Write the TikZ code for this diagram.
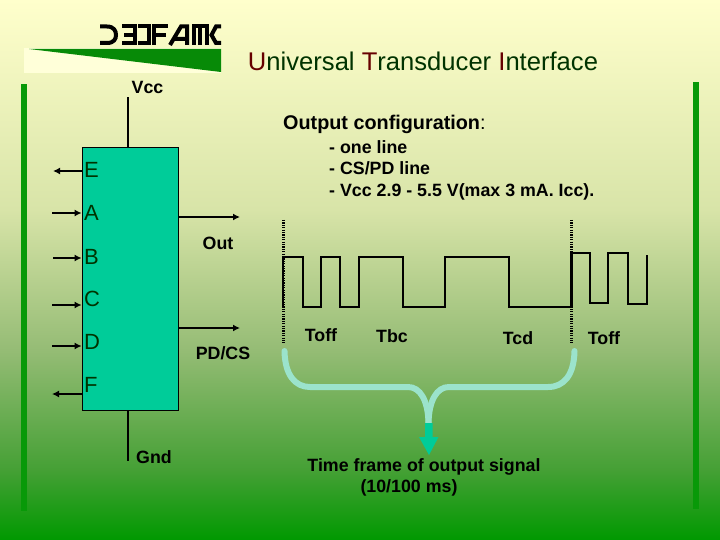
\documentclass[tikz,border=0pt]{standalone}
\usepackage{fontspec}
\setmainfont{Liberation Sans}
\usetikzlibrary{arrows.meta}
\definecolor{bgtop}{HTML}{FFFFCC}
\definecolor{bgone}{HTML}{D8E4A8}
\definecolor{bgtwo}{HTML}{95BC75}
\definecolor{bgthree}{HTML}{45A035}
\definecolor{bgend}{HTML}{009900}
\definecolor{barGreen}{HTML}{089908}
\definecolor{blockFill}{HTML}{00CC99}
\definecolor{braceFill}{HTML}{9BE3CC}
\definecolor{titleGreen}{HTML}{003300}
\definecolor{titleRed}{HTML}{660000}
\pgfdeclareverticalshading{slidebg}{100bp}{color(0bp)=(bgend); color(25bp)=(bgend); color(31.5bp)=(bgthree); color(42.6bp)=(bgtwo); color(55.6bp)=(bgone); color(75bp)=(bgtop); color(100bp)=(bgtop)}
\tikzset{
  lbl/.style={font=\fontsize{17.8}{20}\selectfont\bfseries, inner sep=0pt},
  pinlbl/.style={font=\fontsize{22}{24}\selectfont, text=titleGreen, inner sep=0pt},
  pinline/.style={line width=1.8pt, -{Latex[length=7pt,width=7pt]}},
  outline/.style={line width=2.6pt, -{Latex[length=7pt,width=7pt]}},
  railline/.style={line width=2.6pt},
  wave/.style={line width=2.6pt, line join=miter},
  frameline/.style={line width=3pt, dash pattern=on 1.2pt off 1.2pt},
  bracepath/.style={line width=6pt, braceFill, line cap=round},
  logostroke/.style={line width=4pt, line cap=butt, line join=miter}
}
\begin{document}
\begin{tikzpicture}[x=1pt, y=-1pt]
    \useasboundingbox (0,0) rectangle (720,540);
    \shade[shading=slidebg] (0,0) rectangle (720,540);

    % Side bars
    \fill[barGreen] (21,84) rectangle (27,511);
    \fill[barGreen] (693,82) rectangle (699,509);

    % Logo
    \fill[bgtop!75!white] (24,48) rectangle (221,73);
    \fill[barGreen!90!black] (29,49) -- (221,49) -- (221,72) -- cycle;
    \draw[logostroke] (100,26.5) -- (107,26.5) .. controls (114,26.5) and (116,31) .. (116,35) .. controls (116,39) and (114,43) .. (107,43) -- (100,43);
    \draw[logostroke] (122,26.5) -- (135,26.5) -- (135,43) -- (122,43) (124,35) -- (135,35);
    \draw[logostroke] (138,26.5) -- (149,26.5) -- (149,43) -- (138,43);
    \draw[logostroke] (154,45) -- (154,26.5) -- (168,26.5) (154,35) -- (166,35);
    \draw[logostroke] (170,45) -- (181,26.5) -- (187,26.5) -- (187,45) (175,39) -- (186,39);
    \draw[logostroke] (193.5,45) -- (193.5,26.5) -- (206.5,26.5) -- (206.5,45) (200,26.5) -- (200,45);
    \draw[logostroke] (221,26.5) -- (216,26.5) -- (211.5,35) -- (216,43) -- (221,43);

    % Title
    \node[font=\fontsize{25.6}{28}\selectfont, text=titleGreen, inner sep=0pt] (title) at (423,61) {\textcolor{titleRed}{U}niversal \textcolor{titleRed}{T}ransducer \textcolor{titleRed}{I}nterface};

    % Output configuration notes
    \node[lbl, font=\fontsize{19.8}{22}\selectfont\bfseries, anchor=west] (config) at (283,124.5) {Output configuration\textmd{:}};
    \node[lbl, anchor=north west, align=left, font=\fontsize{17.8}{21.8}\selectfont\bfseries] (notes) at (329,140) {- one line\\- CS/PD line\\- Vcc 2.9 - 5.5 V(max 3 mA. Icc).};

    % Interface block
    \node[draw=black, fill=blockFill, line width=0.8pt, minimum width=96pt, minimum height=263pt, inner sep=0pt] (block) at (130,278.5) {};

    % Pin letters
    \node[pinlbl, anchor=west] (pinE) at (84,170) {E};
    \node[pinlbl, anchor=west] (pinA) at (84,213) {A};
    \node[pinlbl, anchor=west] (pinB) at (84,257) {B};
    \node[pinlbl, anchor=west] (pinC) at (84,299) {C};
    \node[pinlbl, anchor=west] (pinD) at (84,342) {D};
    \node[pinlbl, anchor=west] (pinF) at (84,385) {F};

    % Free ends of the connectors
    \coordinate (endE) at (53,171);
    \coordinate (endA) at (52,213);
    \coordinate (endB) at (53,258);
    \coordinate (endC) at (52,305);
    \coordinate (endD) at (52,346);
    \coordinate (endF) at (52,394);
    \coordinate (endOut) at (240,217);
    \coordinate (endPd) at (240,328);
    \coordinate (endVcc) at (128,97);
    \coordinate (endGnd) at (128,461);

    % Pins
    \draw[pinline] (block.west |- endE) -- (endE);
    \draw[pinline] (endA) -- (block.west |- endA);
    \draw[pinline] (endB) -- (block.west |- endB);
    \draw[pinline] (endC) -- (block.west |- endC);
    \draw[pinline] (endD) -- (block.west |- endD);
    \draw[pinline] (block.west |- endF) -- (endF);
    \draw[outline] (block.east |- endOut) -- (endOut);
    \draw[outline] (block.east |- endPd) -- (endPd);
    \draw[railline] (block.north -| endVcc) -- (endVcc);
    \draw[railline] (block.south -| endGnd) -- (endGnd);

    % Block labels
    \node[lbl] (vcc) at (147.5,87) {Vcc};
    \node[lbl] (gnd) at (154,457) {Gnd};
    \node[lbl] (out) at (218,243.5) {Out};
    \node[lbl] (pdcs) at (223,353) {PD/CS};

    % Frame markers
    \draw[frameline] (283,220) -- (283,343);
    \draw[frameline] (571.5,220) -- (571.5,343);

    % Output signal
    \draw[wave] (283,307) -- (283,257) -- (303,257) -- (303,307) -- (321,307) -- (321,257) -- (340,257) -- (340,307) -- (359,307) -- (359,257) -- (403,257) -- (403,307) -- (445,307) -- (445,257) -- (509,257) -- (509,307) -- (571.5,307) -- (571.5,253) -- (590,253) -- (590,303) -- (608,303) -- (608,253) -- (628,253) -- (628,304) -- (647,304) -- (647,255);

    % Timing labels
    \node[lbl] (toffA) at (321,335) {Toff};
    \node[lbl] (tbc) at (392,336) {Tbc};
    \node[lbl] (tcd) at (518,338) {Tcd};
    \node[lbl] (toffB) at (604,338) {Toff};

    % Brace and arrow
    \draw[bracepath] (284.5,351) .. controls (285,375) and (295,387) .. (310,387) -- (408,387) .. controls (420,387) and (428,400) .. (428.5,423);
    \draw[bracepath] (574.5,351) .. controls (574,375) and (564,387) .. (548,387) -- (449,387) .. controls (437,387) and (429,400) .. (428.5,423);
    \fill[blockFill] (425,423) -- (432.5,423) -- (432.5,437) -- (438.5,437) -- (429,455) -- (419,437) -- (425,437) -- cycle;

    \node[lbl] (frameA) at (424,467) {Time frame of output signal};
    \node[lbl] (frameB) at (409,488) {(10/100 ms)};
\end{tikzpicture}
\end{document}
